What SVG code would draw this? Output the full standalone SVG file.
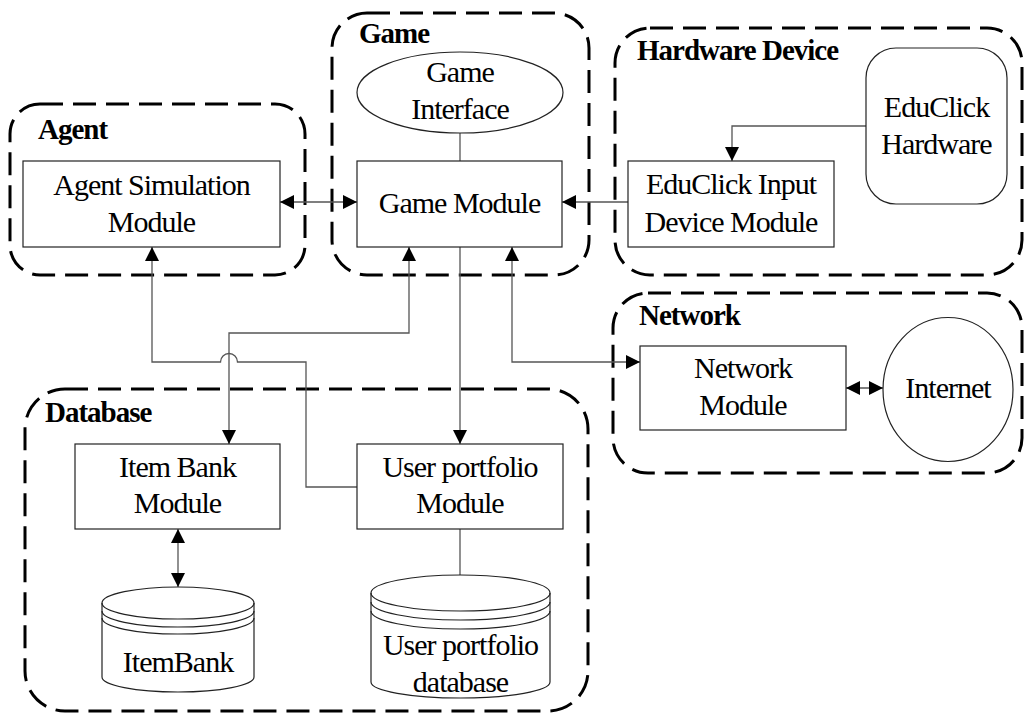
<svg xmlns="http://www.w3.org/2000/svg" width="1024" height="714" viewBox="0 0 1024 714">
<defs>
<marker id="arr" markerUnits="userSpaceOnUse" markerWidth="15" markerHeight="15" refX="14" refY="7" orient="auto-start-reverse">
<path d="M0,0 L14,7 L0,14 z" fill="#000"/>
</marker>
<style>
.grp{fill:none;stroke:#000;stroke-width:3;stroke-dasharray:23 10;}
.box{fill:#fff;stroke:#222;stroke-width:1.2;}
.con{fill:none;stroke:#555;stroke-width:1.3;}
.arc{fill:none;stroke:#222;stroke-width:1.2;}
.t{font-family:"Liberation Serif","Times New Roman",serif;font-size:30px;letter-spacing:-1px;fill:#000;text-anchor:middle;}
.lbl{font-family:"Liberation Serif","Times New Roman",serif;font-size:29px;letter-spacing:-1px;font-weight:bold;fill:#000;}
</style>
</defs>
<rect width="1024" height="714" fill="#fff"/>

<g id="group-agent">
<rect class="grp" x="10" y="104" width="295" height="171" rx="30"/>
<text class="lbl" x="38" y="139">Agent</text>
</g>
<g id="group-game">
<rect class="grp" x="332" y="13" width="257" height="262" rx="35"/>
<text class="lbl" x="359" y="43">Game</text>
</g>
<g id="group-hardware">
<rect class="grp" x="615" y="28" width="407" height="247" rx="35"/>
<text class="lbl" x="637" y="60">Hardware Device</text>
</g>
<g id="group-network">
<rect class="grp" x="613" y="293" width="409" height="180" rx="35"/>
<text class="lbl" x="639" y="325">Network</text>
</g>
<g id="group-database">
<rect class="grp" x="25" y="389" width="563" height="322" rx="40"/>
<text class="lbl" x="45" y="422">Database</text>
</g>

<g id="connectors">
<line class="con" x1="280" y1="202" x2="357" y2="202" marker-start="url(#arr)" marker-end="url(#arr)"/>
<line class="con" x1="628" y1="202" x2="562" y2="202" marker-end="url(#arr)"/>
<path class="con" d="M866,126 H732 V161" marker-end="url(#arr)"/>
<path class="con" d="M512,247 V362 H640" marker-start="url(#arr)" marker-end="url(#arr)"/>
<line class="con" x1="846" y1="388" x2="883" y2="388" marker-start="url(#arr)" marker-end="url(#arr)"/>
<line class="con" x1="460" y1="247" x2="460" y2="444" marker-end="url(#arr)"/>
<path class="con" d="M409,247 V333 H229 V444" marker-start="url(#arr)" marker-end="url(#arr)"/>
<path class="con" d="M357,487 H306 V362 H237.5 A8.5,8.5 0 0 0 220.5,362 H152 V247" marker-end="url(#arr)"/>
<line class="con" x1="460" y1="133" x2="460" y2="161"/>
<line class="con" x1="178" y1="529" x2="178" y2="587" marker-start="url(#arr)" marker-end="url(#arr)"/>
<line class="con" x1="460" y1="529" x2="460" y2="575"/>
</g>

<g id="agent-simulation-module">
<rect class="box" x="23" y="161" width="257" height="86"/>
<text class="t" x="151.5" y="195">Agent Simulation</text>
<text class="t" x="151.5" y="232">Module</text>
</g>
<g id="game-interface">
<ellipse class="box" cx="460" cy="92.5" rx="103" ry="40.5"/>
<text class="t" x="460" y="82">Game</text>
<text class="t" x="460" y="119">Interface</text>
</g>
<g id="game-module">
<rect class="box" x="357" y="161" width="205" height="86"/>
<text class="t" x="459.5" y="213">Game Module</text>
</g>
<g id="educlick-hardware">
<rect class="box" x="866" y="48" width="141" height="156" rx="30"/>
<text class="t" x="936.5" y="117">EduClick</text>
<text class="t" x="936.5" y="154">Hardware</text>
</g>
<g id="educlick-input-module">
<rect class="box" x="628" y="161" width="206" height="86"/>
<text class="t" x="731" y="194">EduClick Input</text>
<text class="t" x="731" y="232">Device Module</text>
</g>
<g id="network-module">
<rect class="box" x="640" y="346" width="206" height="84"/>
<text class="t" x="743" y="378">Network</text>
<text class="t" x="743" y="415">Module</text>
</g>
<g id="internet">
<ellipse class="box" cx="948" cy="389.5" rx="65" ry="72"/>
<text class="t" x="948" y="398">Internet</text>
</g>
<g id="item-bank-module">
<rect class="box" x="75" y="444" width="205" height="85"/>
<text class="t" x="177.5" y="477">Item Bank</text>
<text class="t" x="177.5" y="513">Module</text>
</g>
<g id="user-portfolio-module">
<rect class="box" x="357" y="444" width="206" height="85"/>
<text class="t" x="460" y="477">User portfolio</text>
<text class="t" x="460" y="513">Module</text>
</g>
<g id="itembank-db">
<path class="box" d="M102,603 A76,16 0 0 1 254,603 V677 A76,15 0 0 1 102,677 Z"/>
<path class="arc" d="M102,603 A76,16 0 0 0 254,603"/>
<path class="arc" d="M102,611 A76,16 0 0 0 254,611"/>
<path class="arc" d="M102,618 A76,16 0 0 0 254,618"/>
<text class="t" x="178" y="672">ItemBank</text>
</g>
<g id="user-portfolio-db">
<path class="box" d="M371,593 A89.5,18 0 0 1 550,593 V682 A89.5,16 0 0 1 371,682 Z"/>
<path class="arc" d="M371,593 A89.5,18 0 0 0 550,593"/>
<path class="arc" d="M371,602 A89.5,18 0 0 0 550,602"/>
<path class="arc" d="M371,611 A89.5,18 0 0 0 550,611"/>
<text class="t" x="460.5" y="655">User portfolio</text>
<text class="t" x="460.5" y="692">database</text>
</g>
</svg>
